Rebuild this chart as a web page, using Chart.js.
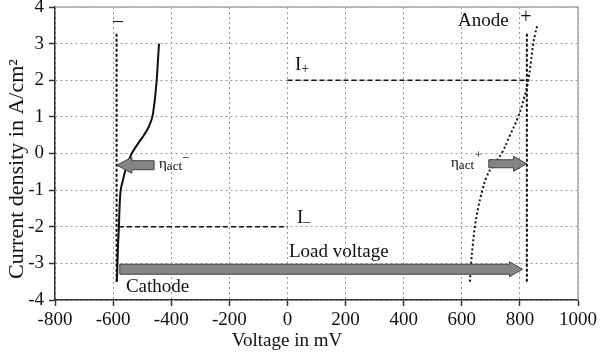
<!DOCTYPE html>
<html>
<head>
<meta charset="utf-8">
<title>Polarisation curves</title>
<script src="https://cdn.jsdelivr.net/npm/chart.js@4.4.1/dist/chart.umd.min.js"></script>
<style>
  html, body { margin: 0; padding: 0; background: #fff; }
  #wrap { width: 600px; height: 358px; }
</style>
</head>
<body>
<div id="wrap"><canvas id="polChart" width="600" height="358"></canvas></div>
<script>
const SERIF = '"Liberation Serif", "Times New Roman", serif';

// axes
const xTicks = [-800, -600, -400, -200, 0, 200, 400, 600, 800, 1000];
const yTicks = [-4, -3, -2, -1, 0, 1, 2, 3, 4];
const xTitle = 'Voltage in mV';
const yTitle = 'Current density in A/cm²';

// cathode curve (solid)
const cathodeV = [-587, -585, -583, -580, -578, -574, -567, -559, -549, -536, -516, -494, -476, -465, -460, -456, -450, -446, -442];
const cathodeI = [-3.5, -3.0, -2.5, -2.0, -1.5, -1.0, -0.75, -0.5, -0.25, 0.0, 0.25, 0.5, 0.75, 1.0, 1.25, 1.5, 2.0, 2.5, 3.0];

// anode curve (dotted)
const anodeV = [628, 632, 638, 645, 656, 671, 685, 708, 737, 766, 794, 814, 829, 838, 846, 852, 860];
const anodeI = [-3.5, -3.0, -2.5, -2.0, -1.5, -1.0, -0.64, -0.32, 0.0, 0.5, 1.0, 1.5, 2.0, 2.5, 3.0, 3.25, 3.5];

// open circuit potentials (vertical dashed)
const cathodeOcvV = -588;
const anodeOcvV = 824;
const ocvI = [-3.5, 3.3];

// current levels (horizontal dashed)
const iPlusV = [0, 824];
const iPlusI = 2;
const iMinusV = [-580, 0];
const iMinusI = -2;

// arrows: load voltage, eta_act-, eta_act+
const arrowFromV = [-577, -459, 693];
const arrowToV = [809, -587, 823];
const arrowI = [-3.16, -0.32, -0.28];

// text labels (left/baseline anchors in data units)
const labelText = ['Anode', 'Load voltage', 'Cathode'];
const labelV = [587, 5, -556];
const labelI = [3.475, -2.83, -3.78];

const poleText = ['–', '+'];
const poleV = [-583, 821];
const poleI = [3.46, 3.55];

const currentLabelV = [26, 33];
const currentLabelI = [2.27, -1.91];
const currentLabelSign = ['+', '–'];

const etaLabelV = [-442, 563];
const etaLabelI = [-0.43, -0.40];
const etaLabelSign = ['–', '+'];

const pts = (xs, ys) => xs.map((x, i) => ({x: x, y: Array.isArray(ys) ? ys[i] : ys}));

const arrowStyle = [
  {body: 10, head: 15, len: 13},
  {body: 9, head: 16, len: 15},
  {body: 8, head: 15, len: 13}
];

function drawArrow(ctx, x0, x1, y, st) {
  const dir = Math.sign(x1 - x0);
  const hb = x1 - dir * st.len;
  ctx.beginPath();
  ctx.moveTo(x0, y - st.body / 2);
  ctx.lineTo(hb, y - st.body / 2);
  ctx.lineTo(hb, y - st.head / 2);
  ctx.lineTo(x1, y);
  ctx.lineTo(hb, y + st.head / 2);
  ctx.lineTo(hb, y + st.body / 2);
  ctx.lineTo(x0, y + st.body / 2);
  ctx.closePath();
  ctx.fillStyle = '#858585';
  ctx.fill();
  ctx.lineWidth = 1;
  ctx.strokeStyle = '#404040';
  ctx.stroke();
}

const framePlugin = {
  id: 'frame',
  beforeDatasetsDraw(chart) {
    const {ctx, chartArea: a} = chart;
    ctx.save();
    ctx.strokeStyle = '#a8a8a8';
    ctx.lineWidth = 1.5;
    ctx.beginPath();
    ctx.moveTo(a.left, a.top);
    ctx.lineTo(a.right, a.top);
    ctx.lineTo(a.right, a.bottom);
    ctx.stroke();
    ctx.restore();
  }
};

const notesPlugin = {
  id: 'notes',
  afterDatasetsDraw(chart) {
    const {ctx, scales: {x, y}} = chart;
    ctx.save();
    arrowFromV.forEach((v, i) => {
      drawArrow(ctx, x.getPixelForValue(v), x.getPixelForValue(arrowToV[i]), y.getPixelForValue(arrowI[i]), arrowStyle[i]);
    });

    ctx.fillStyle = '#111';
    ctx.textBaseline = 'alphabetic';
    ctx.textAlign = 'left';
    ctx.font = '19px ' + SERIF;
    labelText.forEach((t, i) => {
      ctx.fillText(t, x.getPixelForValue(labelV[i]), y.getPixelForValue(labelI[i]));
    });

    ctx.textAlign = 'center';
    ctx.font = '20px ' + SERIF;
    poleText.forEach((t, i) => {
      ctx.fillText(t, x.getPixelForValue(poleV[i]), y.getPixelForValue(poleI[i]));
    });

    // I+ and I-
    ctx.textAlign = 'left';
    currentLabelV.forEach((v, i) => {
      const px = x.getPixelForValue(v);
      const py = y.getPixelForValue(currentLabelI[i]);
      ctx.font = '19px ' + SERIF;
      ctx.fillText('I', px, py);
      const w = ctx.measureText('I').width;
      ctx.font = '14px ' + SERIF;
      ctx.fillText(currentLabelSign[i], px + w, py + 3);
    });

    // eta_act labels
    etaLabelV.forEach((v, i) => {
      let px = x.getPixelForValue(v);
      const py = y.getPixelForValue(etaLabelI[i]);
      ctx.font = '15px ' + SERIF;
      ctx.fillText('η', px, py - 1);
      px += ctx.measureText('η').width;
      ctx.font = '13px ' + SERIF;
      ctx.fillText('act', px, py + 1);
      px += ctx.measureText('act').width + 1;
      ctx.font = '12px ' + SERIF;
      ctx.fillText(etaLabelSign[i], px, py - 9);
    });

    // axis titles
    ctx.font = '19px ' + SERIF;
    ctx.textAlign = 'center';
    ctx.textBaseline = 'middle';
    ctx.fillText(xTitle, 287, 341);
    ctx.translate(17, 169);
    ctx.rotate(-Math.PI / 2);
    ctx.font = '22px ' + SERIF;
    ctx.fillText(yTitle, 0, 0);
    ctx.restore();
  }
};

const black = '#111';
const gridOpts = {color: '#9a9a9a', lineWidth: 1, tickLength: 6, tickColor: '#333', tickWidth: 1.5};
const borderOpts = {color: '#333', width: 1.5, dash: [2, 3]};

new Chart(document.getElementById('polChart').getContext('2d'), {
  type: 'scatter',
  data: {
    datasets: [
      {data: pts(cathodeV, cathodeI), showLine: true, borderColor: black, borderWidth: 2, pointRadius: 0, tension: 0.4},
      {data: pts(anodeV, anodeI), showLine: true, borderColor: black, borderWidth: 2, borderDash: [2, 2.5], pointRadius: 0, tension: 0.4},
      {data: pts([cathodeOcvV, cathodeOcvV], ocvI), showLine: true, borderColor: black, borderWidth: 2, borderDash: [3, 2], pointRadius: 0},
      {data: pts([anodeOcvV, anodeOcvV], ocvI), showLine: true, borderColor: black, borderWidth: 2, borderDash: [3, 2], pointRadius: 0},
      {data: pts(iPlusV, iPlusI), showLine: true, borderColor: black, borderWidth: 1.5, borderDash: [5, 3], pointRadius: 0},
      {data: pts(iMinusV, iMinusI), showLine: true, borderColor: black, borderWidth: 1.5, borderDash: [5, 3], pointRadius: 0}
    ]
  },
  options: {
    responsive: false,
    animation: false,
    layout: {padding: {left: 0, right: 22, top: 7, bottom: 0}},
    plugins: {legend: {display: false}, tooltip: {enabled: false}},
    scales: {
      x: {
        type: 'linear',
        min: -800,
        max: 1000,
        afterBuildTicks: axis => { axis.ticks = xTicks.map(v => ({value: v})); },
        afterFit: s => { s.height = 58; s.paddingLeft = 0; s.paddingRight = 0; },
        ticks: {color: '#111', font: {family: SERIF, size: 19}, padding: 3, maxRotation: 0, autoSkip: false, callback: v => String(v)},
        grid: gridOpts,
        border: borderOpts
      },
      y: {
        type: 'linear',
        min: -4,
        max: 4,
        afterBuildTicks: axis => { axis.ticks = yTicks.map(v => ({value: v})); },
        afterFit: s => { s.width = 55; s.paddingTop = 0; s.paddingBottom = 0; },
        ticks: {color: '#111', font: {family: SERIF, size: 19}, padding: 5, callback: v => String(v)},
        grid: gridOpts,
        border: borderOpts
      }
    }
  },
  plugins: [framePlugin, notesPlugin]
});
</script>
</body>
</html>
